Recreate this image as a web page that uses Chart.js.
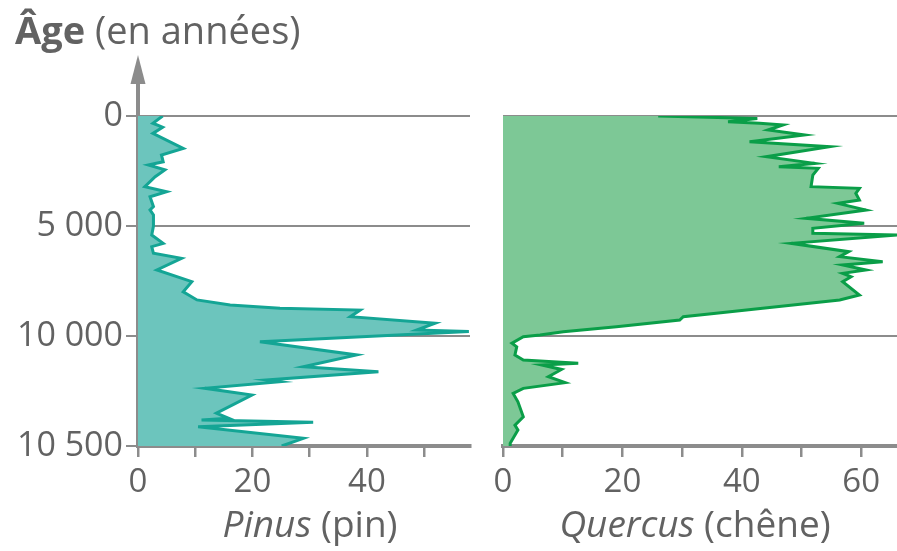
<!DOCTYPE html>
<html lang="fr">
<head>
<meta charset="utf-8">
<script src="https://cdn.jsdelivr.net/npm/chart.js@4.4.0/dist/chart.umd.min.js"></script>
<style>
  html, body { margin: 0; padding: 0; background: #fff; }
  #wrap { position: relative; width: 897px; height: 551px; overflow: hidden; }
  #left { position: absolute; left: 0; top: 0; width: 480px; height: 551px; }
  #right { position: absolute; left: 480px; top: 0; width: 417px; height: 551px; }
</style>
</head>
<body>
<div id="wrap">
  <div id="left"><canvas id="pinusChart"></canvas></div>
  <div id="right"><canvas id="quercusChart"></canvas></div>
</div>
<script>
// Age axis: the ticks are evenly spaced, but not the ages
const ageTicks = [0, 5000, 10000, 10500];
const ageLabels = ['0', '5 000', '10 000', '10 500'];

// Pinus (pin), % pollen
const pinusAge = [0, 330, 510, 790, 1470, 1770, 2080, 2230, 2450, 2760, 3210, 3440, 3670, 4120, 4270, 4500,
  4730, 5000, 5410, 5790, 5940, 6240, 6470, 7000, 7530, 7990, 8360, 8590, 8740, 8820, 9120, 9420, 9730, 9800,
  10026, 10086, 10140, 10162, 10200, 10208, 10238, 10268, 10351, 10374, 10382, 10392, 10412, 10465, 10500];
const pinusPct = [4.3, 2.6, 4.3, 2.6, 7.9, 4.1, 4.4, 1.8, 4.7, 3.0, 1.2, 5.0, 2.1, 2.7, 2.1, 2.7,
  2.7, 2.7, 2.4, 4.4, 2.4, 2.7, 7.6, 3.3, 9.4, 7.9, 10.3, 16.1, 24.8, 38.8, 37.1, 51.9, 48.7, 57.8,
  21.3, 38.2, 28.9, 42.0, 22.5, 24.8, 11.7, 19.9, 13.7, 15.8, 11.1, 30.6, 10.5, 28.9, 25.1];

// Quercus (chêne), % pollen
const quercusAge = [0, 110, 259, 330, 409, 636, 864, 1167, 1394, 1848, 2152, 2303, 2379, 2682, 3212, 3288,
  3515, 3818, 3970, 4273, 4652, 4879, 5106, 5333, 5409, 5788, 6167, 6394, 6621, 6773, 7000, 7152, 7303,
  7530, 8136, 8364, 8742, 8970, 9121, 9273, 9576, 9803, 9955, 10003, 10033, 10049, 10086, 10109, 10124,
  10132, 10152, 10185, 10212, 10238, 10261, 10299, 10367, 10405, 10427, 10488, 10500];
const quercusPct = [26.0, 42.6, 37.7, 43.0, 46.9, 44.4, 50.5, 41.3, 54.7, 44.1, 52.2, 46.2, 52.8, 51.9, 51.6, 59.7,
  59.1, 59.7, 56.1, 60.8, 50.8, 60.5, 51.9, 51.9, 66.0, 48.3, 57.9, 56.4, 63.6, 56.9, 60.8, 56.9, 58.3,
  56.9, 59.7, 56.4, 43.5, 35.7, 30.2, 29.6, 19.0, 10.1, 6.2, 3.4, 1.5, 2.3, 2.0, 3.4, 12.6,
  6.5, 9.8, 7.6, 10.4, 3.4, 1.7, 2.5, 3.4, 2.0, 2.5, 1.2, 1.2];

const FONT = "'Open Sans', sans-serif";
const GREY = '#8c8c8c';
const TEXT = '#626262';

// map an age onto the piecewise axis (one unit per tick interval)
function ageToPos(age) {
    for (let i = 0; i < ageTicks.length - 1; i++) {
        if (age <= ageTicks[i + 1]) {
            return i + (age - ageTicks[i]) / (ageTicks[i + 1] - ageTicks[i]);
        }
    }
    return ageTicks.length - 1;
}

function toPoints(ages, values) {
    return ages.map((a, i) => ({ x: values[i], y: ageToPos(a) }));
}

// draw pieces of text with different fonts on one baseline
function drawMixed(ctx, parts, x, y, align) {
    ctx.save();
    ctx.fillStyle = TEXT;
    ctx.textBaseline = 'alphabetic';
    ctx.textAlign = 'left';
    let total = 0;
    parts.forEach(p => { ctx.font = p.font; p.w = ctx.measureText(p.text).width; total += p.w; });
    let cx = align === 'center' ? x - total / 2 : x;
    parts.forEach(p => { ctx.font = p.font; ctx.fillText(p.text, cx, y); cx += p.w; });
    ctx.restore();
}

function makeOptions(opts) {
    return {
        responsive: true,
        maintainAspectRatio: false,
        animation: false,
        indexAxis: 'y',
        layout: { padding: { top: 116, left: opts.padLeft, right: opts.padRight, bottom: 0 } },
        plugins: { legend: { display: false }, tooltip: { enabled: false } },
        scales: {
            x: {
                type: 'linear',
                position: 'bottom',
                min: 0,
                max: opts.xMax,
                afterFit: s => { s.height = 105; },
                ticks: {
                    stepSize: 10,
                    includeBounds: false,
                    autoSkip: false,
                    maxRotation: 0,
                    padding: 6,
                    color: TEXT,
                    font: { family: FONT, size: 33 },
                    callback: v => (v % 20 === 0 ? v : '')
                },
                grid: { drawOnChartArea: false, drawTicks: true, tickLength: 11, lineWidth: 2.5, color: GREY },
                border: { display: true, width: 4, color: GREY }
            },
            y: {
                type: 'linear',
                reverse: true,
                min: 0,
                max: ageTicks.length - 1,
                z: 1,
                afterFit: s => { s.width = opts.yWidth; },
                ticks: {
                    display: opts.showAge,
                    stepSize: 1,
                    padding: 3,
                    color: TEXT,
                    font: { family: FONT, size: 34 },
                    callback: v => ageLabels[v]
                },
                grid: { color: GREY, lineWidth: 2, drawTicks: opts.showAge, tickLength: 12 },
                border: { display: opts.showAge, width: 4, color: GREY }
            }
        }
    };
}

const pinusDecor = {
    id: 'pinusDecor',
    afterDraw(chart) {
        const ctx = chart.ctx;
        const x0 = chart.chartArea.left;
        const top = chart.chartArea.top;
        // arrow on the age axis
        ctx.save();
        ctx.strokeStyle = GREY;
        ctx.fillStyle = GREY;
        ctx.lineWidth = 4;
        ctx.beginPath();
        ctx.moveTo(x0, top);
        ctx.lineTo(x0, 78);
        ctx.stroke();
        ctx.beginPath();
        ctx.moveTo(x0, 55);
        ctx.lineTo(x0 - 7.5, 84);
        ctx.lineTo(x0 + 7.5, 84);
        ctx.closePath();
        ctx.fill();
        ctx.restore();
        drawMixed(ctx, [
            { text: 'Âge', font: `bold 38px ${FONT}` },
            { text: ' (en années)', font: `38px ${FONT}` }
        ], 15, 44, 'left');
        drawMixed(ctx, [
            { text: 'Pinus', font: `italic 37px ${FONT}` },
            { text: ' (pin)', font: `37px ${FONT}` }
        ], 310, 537, 'center');
    }
};

const quercusDecor = {
    id: 'quercusDecor',
    afterDraw(chart) {
        drawMixed(chart.ctx, [
            { text: 'Quercus', font: `italic 37px ${FONT}` },
            { text: ' (chêne)', font: `37px ${FONT}` }
        ], 215, 537, 'center');
    }
};

new Chart(document.getElementById('pinusChart'), {
    type: 'line',
    data: {
        datasets: [{
            data: toPoints(pinusAge, pinusPct),
            borderColor: '#14a595',
            backgroundColor: '#6cc5bd',
            borderWidth: 3,
            pointRadius: 0,
            tension: 0,
            fill: 'origin'
        }]
    },
    options: makeOptions({ xMax: 58, padLeft: 0, padRight: 10, yWidth: 138, showAge: true }),
    plugins: [pinusDecor]
});

new Chart(document.getElementById('quercusChart'), {
    type: 'line',
    data: {
        datasets: [{
            data: toPoints(quercusAge, quercusPct),
            borderColor: '#0a9e48',
            backgroundColor: '#7dc896',
            borderWidth: 3,
            pointRadius: 0,
            tension: 0,
            fill: 'origin'
        }]
    },
    options: makeOptions({ xMax: 66, padLeft: 23, padRight: 0, yWidth: 0, showAge: false }),
    plugins: [quercusDecor]
});
</script>
</body>
</html>
